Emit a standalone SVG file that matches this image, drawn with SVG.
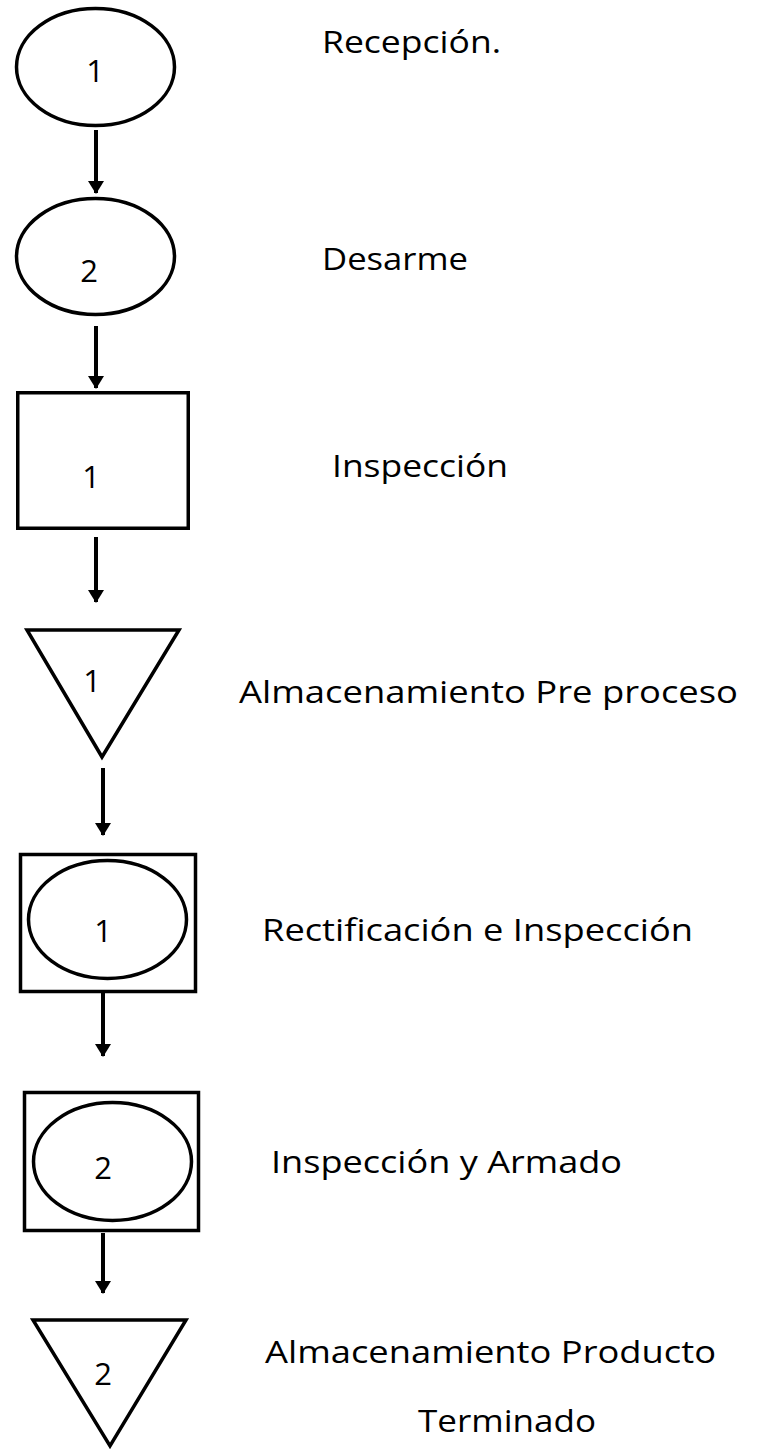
<svg xmlns="http://www.w3.org/2000/svg" width="762" height="1452" viewBox="0 0 762 1452">
<style>
.s{fill:#fff;stroke:#000;stroke-width:3.5}
.c{stroke:#000;stroke-width:4;fill:none}
.n{font-family:"Open Sans","Liberation Sans",sans-serif;font-size:31px;fill:#000;text-anchor:middle}
.t{font-family:"Open Sans","Liberation Sans",sans-serif;font-size:31px;fill:#000}
</style>
<defs>
<marker id="a" markerUnits="userSpaceOnUse" markerWidth="13" markerHeight="16" refX="12" refY="8" orient="auto" viewBox="0 0 13 16">
<path d="M0,0 L13,8 L0,16 Z" fill="#000"/>
</marker>
</defs>
<rect width="762" height="1452" fill="#fff"/>
<g id="connectors">
<line class="c" x1="96" y1="130" x2="96" y2="193" marker-end="url(#a)"/>
<line class="c" x1="96" y1="326" x2="96" y2="388" marker-end="url(#a)"/>
<line class="c" x1="96" y1="537" x2="96" y2="602" marker-end="url(#a)"/>
<line class="c" x1="103" y1="768" x2="103" y2="835" marker-end="url(#a)"/>
<line class="c" x1="103" y1="993" x2="103" y2="1056" marker-end="url(#a)"/>
<line class="c" x1="103" y1="1233" x2="103" y2="1293" marker-end="url(#a)"/>
</g>
<g id="n1">
<ellipse class="s" cx="95.5" cy="67" rx="79" ry="58.5"/>
<text class="n" x="95" y="82">1</text>
<text class="t" x="322" y="53" textLength="179" lengthAdjust="spacingAndGlyphs">Recepción.</text>
</g>
<g id="n2">
<ellipse class="s" cx="95.5" cy="256.5" rx="79" ry="58"/>
<text class="n" x="89" y="282">2</text>
<text class="t" x="322" y="270" textLength="146" lengthAdjust="spacingAndGlyphs">Desarme</text>
</g>
<g id="n3">
<rect class="s" x="17.75" y="392.75" width="170.5" height="135.5"/>
<text class="n" x="91" y="488">1</text>
<text class="t" x="332" y="477" textLength="176" lengthAdjust="spacingAndGlyphs">Inspección</text>
</g>
<g id="n4">
<polygon class="s" points="27,630 179,630 102,757"/>
<text class="n" x="92" y="692">1</text>
<text class="t" x="239" y="703" textLength="499" lengthAdjust="spacingAndGlyphs">Almacenamiento Pre proceso</text>
</g>
<g id="n5">
<rect class="s" x="20.5" y="854.5" width="175" height="137"/>
<ellipse class="s" cx="107.5" cy="919.5" rx="79" ry="59"/>
<text class="n" x="103" y="942">1</text>
<text class="t" x="262" y="941" textLength="431" lengthAdjust="spacingAndGlyphs">Rectificación e Inspección</text>
</g>
<g id="n6">
<rect class="s" x="24.5" y="1092.5" width="174" height="138"/>
<ellipse class="s" cx="112.5" cy="1161.5" rx="79" ry="59"/>
<text class="n" x="103" y="1179">2</text>
<text class="t" x="271" y="1173" textLength="351" lengthAdjust="spacingAndGlyphs">Inspección y Armado</text>
</g>
<g id="n7">
<polygon class="s" points="33,1320 186,1320 110,1446"/>
<text class="n" x="103" y="1385">2</text>
<text class="t" x="265" y="1363" textLength="451" lengthAdjust="spacingAndGlyphs">Almacenamiento Producto</text>
<text class="t" x="418" y="1432" textLength="178" lengthAdjust="spacingAndGlyphs">Terminado</text>
</g>
</svg>
